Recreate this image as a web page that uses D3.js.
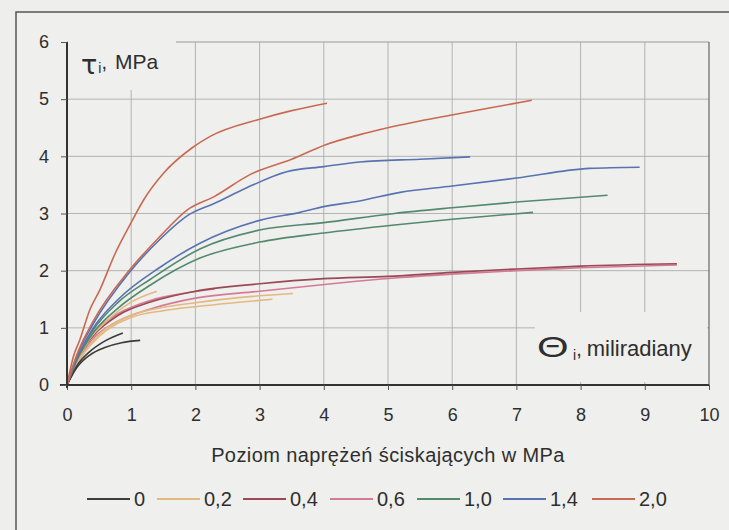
<!DOCTYPE html>
<html>
<head>
<meta charset="utf-8">
<script src="https://cdn.jsdelivr.net/npm/d3@7"></script>
<style>
  body { margin: 0; background: #eeeeec; }
  svg text { font-family: "Liberation Sans", Arial, sans-serif; fill: #2e2e2e; }
</style>
</head>
<body>
<svg id="chart"></svg>
<script>
// tick labels
const xTicks = [0, 1, 2, 3, 4, 5, 6, 7, 8, 9, 10];
const yTicks = [0, 1, 2, 3, 4, 5, 6];

// legend: stress level, MPa
const levels = ["0", "0,2", "0,4", "0,6", "1,0", "1,4", "2,0"];

// curves [theta, tau], one array per test
const lvl0_a = [[0,0],[0.15,0.3],[0.35,0.52],[0.6,0.66],[0.85,0.74],[1.14,0.78]];
const lvl0_b = [[0,0],[0.15,0.33],[0.35,0.58],[0.56,0.75],[0.87,0.91]];

const lvl02_a = [[0,0],[0.15,0.35],[0.35,0.7],[0.6,0.98],[1.0,1.22],[1.5,1.36],[2.0,1.44],[2.6,1.52],[3.52,1.6]];
const lvl02_b = [[0,0],[0.15,0.4],[0.35,0.8],[0.6,1.1],[1.0,1.45],[1.4,1.64]];
const lvl02_c = [[0,0],[0.2,0.45],[0.5,0.85],[1.0,1.18],[1.5,1.3],[2.0,1.37],[2.6,1.44],[3.2,1.5]];

const lvl04_a = [[0,0],[0.15,0.42],[0.4,0.85],[0.8,1.22],[1.3,1.45],[2.0,1.64],[3.0,1.77],[4.0,1.86],[5.0,1.9],[6.0,1.97],[7.0,2.03],[8.0,2.08],[9.5,2.12]];

const lvl06_a = [[0,0],[0.15,0.38],[0.4,0.8],[0.8,1.12],[1.3,1.33],[2.0,1.52],[3.0,1.64],[4.2,1.78],[5.2,1.88],[6.0,1.94],[7.0,2.0],[8.0,2.05],[9.5,2.1]];
const lvl06_b = [[0,0],[0.15,0.45],[0.4,0.9],[0.8,1.25],[1.3,1.48],[1.8,1.6],[2.3,1.68]];

const lvl10_a = [[0,0],[0.15,0.45],[0.4,0.95],[0.8,1.45],[1.3,1.85],[2.07,2.38],[3.0,2.71],[4.0,2.84],[5.1,3.0],[6.0,3.1],[7.0,3.2],[8.42,3.32]];
const lvl10_b = [[0,0],[0.15,0.42],[0.4,0.9],[0.8,1.35],[1.3,1.75],[2.07,2.22],[3.0,2.5],[4.0,2.66],[5.1,2.8],[6.0,2.9],[7.26,3.02]];

const lvl14_a = [[0,0],[0.15,0.5],[0.4,1.05],[0.98,1.98],[1.45,2.55],[1.9,2.98],[2.3,3.18],[2.8,3.45],[3.42,3.73],[4.0,3.82],[4.56,3.9],[5.5,3.95],[6.28,3.99]];
const lvl14_b = [[0,0],[0.15,0.45],[0.4,0.98],[0.8,1.5],[1.45,2.06],[2.07,2.48],[3.0,2.88],[3.63,3.02],[4.0,3.12],[4.56,3.22],[5.19,3.37],[6.0,3.48],[7.0,3.62],[8.14,3.79],[8.92,3.81]];

const lvl20_a = [[0,0],[0.1,0.5],[0.2,0.79],[0.35,1.3],[0.51,1.66],[0.75,2.3],[0.98,2.8],[1.2,3.25],[1.5,3.7],[1.95,4.15],[2.23,4.35],[3.0,4.65],[3.5,4.8],[4.05,4.93]];
const lvl20_b = [[0,0],[0.15,0.52],[0.4,1.1],[0.98,2.02],[1.45,2.6],[1.87,3.06],[2.3,3.3],[2.85,3.68],[3.5,3.95],[4.02,4.2],[4.56,4.38],[5.03,4.51],[5.97,4.72],[6.6,4.85],[7.24,4.98]];

const colors = ["#3c3c3c", "#e3b97f", "#9a4a55", "#d47a96", "#528a6e", "#5873b2", "#c86a52"];

const curves = [
  { s: 3, pts: lvl06_b }, { s: 3, pts: lvl06_a }, { s: 2, pts: lvl04_a },
  { s: 1, pts: lvl02_c }, { s: 1, pts: lvl02_a }, { s: 1, pts: lvl02_b },
  { s: 0, pts: lvl0_a }, { s: 0, pts: lvl0_b },
  { s: 4, pts: lvl10_b }, { s: 4, pts: lvl10_a },
  { s: 5, pts: lvl14_b }, { s: 5, pts: lvl14_a },
  { s: 6, pts: lvl20_b }, { s: 6, pts: lvl20_a }
];

const W = 729, H = 530;
const svg = d3.select("#chart").attr("width", W).attr("height", H);

// outer frame
svg.append("rect").attr("x", 16).attr("y", 12).attr("width", 740).attr("height", 540)
  .attr("fill", "#efefed").attr("stroke", "#555").attr("stroke-width", 1.5);

const x = d3.scaleLinear().domain([0, 10]).range([67, 709]);
const y = d3.scaleLinear().domain([0, 6]).range([385, 42]);

// grid
svg.append("g").selectAll("line").data(xTicks.slice(1, 10)).enter().append("line")
  .attr("x1", d => x(d)).attr("x2", d => x(d)).attr("y1", y(6)).attr("y2", y(0))
  .attr("stroke", "#adadad").attr("stroke-width", 0.9);
svg.append("g").selectAll("line").data(yTicks.slice(1, 6)).enter().append("line")
  .attr("x1", x(0)).attr("x2", x(10)).attr("y1", d => y(d)).attr("y2", d => y(d))
  .attr("stroke", "#adadad").attr("stroke-width", 0.9);
svg.append("line").attr("x1", x(0)).attr("x2", x(10)).attr("y1", y(6)).attr("y2", y(6))
  .attr("stroke", "#999").attr("stroke-width", 1);
svg.append("line").attr("x1", x(10)).attr("x2", x(10)).attr("y1", y(6)).attr("y2", y(0))
  .attr("stroke", "#666").attr("stroke-width", 1.2);

// label backgrounds hide the grid
svg.append("rect").attr("x", x(0) + 1).attr("y", 40).attr("width", 108).attr("height", 50).attr("fill", "#efefed");
svg.append("rect").attr("x", 535).attr("y", 312).attr("width", 172).attr("height", 70).attr("fill", "#efefed");

// curves
const line = d3.line().x(d => x(d[0])).y(d => y(d[1])).curve(d3.curveMonotoneX);
svg.append("g").selectAll("path").data(curves).enter().append("path")
  .attr("d", d => line(d.pts)).attr("fill", "none")
  .attr("stroke", d => colors[d.s]).attr("stroke-width", 1.6);

// axes
const xAxis = svg.append("g").attr("transform", `translate(0,${y(0)})`)
  .call(d3.axisBottom(x).tickValues(xTicks).tickFormat(d3.format("d")).tickSize(5).tickPadding(18));
const yAxis = svg.append("g").attr("transform", `translate(${x(0)},0)`)
  .call(d3.axisLeft(y).tickValues(yTicks).tickFormat(d3.format("d")).tickSize(6).tickPadding(12));
[xAxis, yAxis].forEach(a => {
  a.select(".domain").attr("stroke", "#333").attr("stroke-width", 2);
  a.selectAll(".tick line").attr("stroke", "#555").attr("stroke-width", 1);
  a.selectAll(".tick text").style("font-size", "18px").attr("fill", "#2e2e2e");
});
yAxis.select(".domain").attr("d", `M0,${y(6)}V${y(0) + 3}`);
xAxis.select(".domain").attr("d", `M60,0H709`);

// axis labels
const tau = svg.append("text").attr("x", 81).attr("y", 74);
tau.append("tspan").text("τ").style("font-size", "27px").style("font-family", "DejaVu Sans");
tau.append("tspan").text("i").style("font-size", "14px").attr("dy", -1).attr("dx", 1);
tau.append("tspan").text(",").style("font-size", "20px").attr("dy", -4);
tau.append("tspan").text("MPa").style("font-size", "21px").attr("dx", 8);

svg.append("text").attr("transform", "translate(537,357) scale(1.4,1)")
  .style("font-size", "29px").text("Θ");
const theta = svg.append("text").attr("x", 573).attr("y", 356);
theta.append("tspan").text("i").style("font-size", "14px").attr("dy", 4);
theta.append("tspan").text(",").style("font-size", "20px").attr("dy", -4);
theta.append("tspan").text("miliradiany").style("font-size", "22px").attr("dx", 5);

svg.append("text").attr("x", 388).attr("y", 462).attr("text-anchor", "middle")
  .style("font-size", "20px").style("letter-spacing", "0.4px").text("Poziom naprężeń ściskających w MPa");

// legend
const legendX = [87, 157, 243, 330, 417, 503, 592];
const lg = svg.append("g").selectAll("g").data(levels).enter().append("g")
  .attr("transform", (d, i) => `translate(${legendX[i]},499)`);
lg.append("line").attr("x1", 0).attr("x2", 43).attr("stroke", (d, i) => colors[i]).attr("stroke-width", 1.8);
lg.append("text").attr("x", 47).attr("y", 7).style("font-size", "20px").text(d => d);
</script>
</body>
</html>
